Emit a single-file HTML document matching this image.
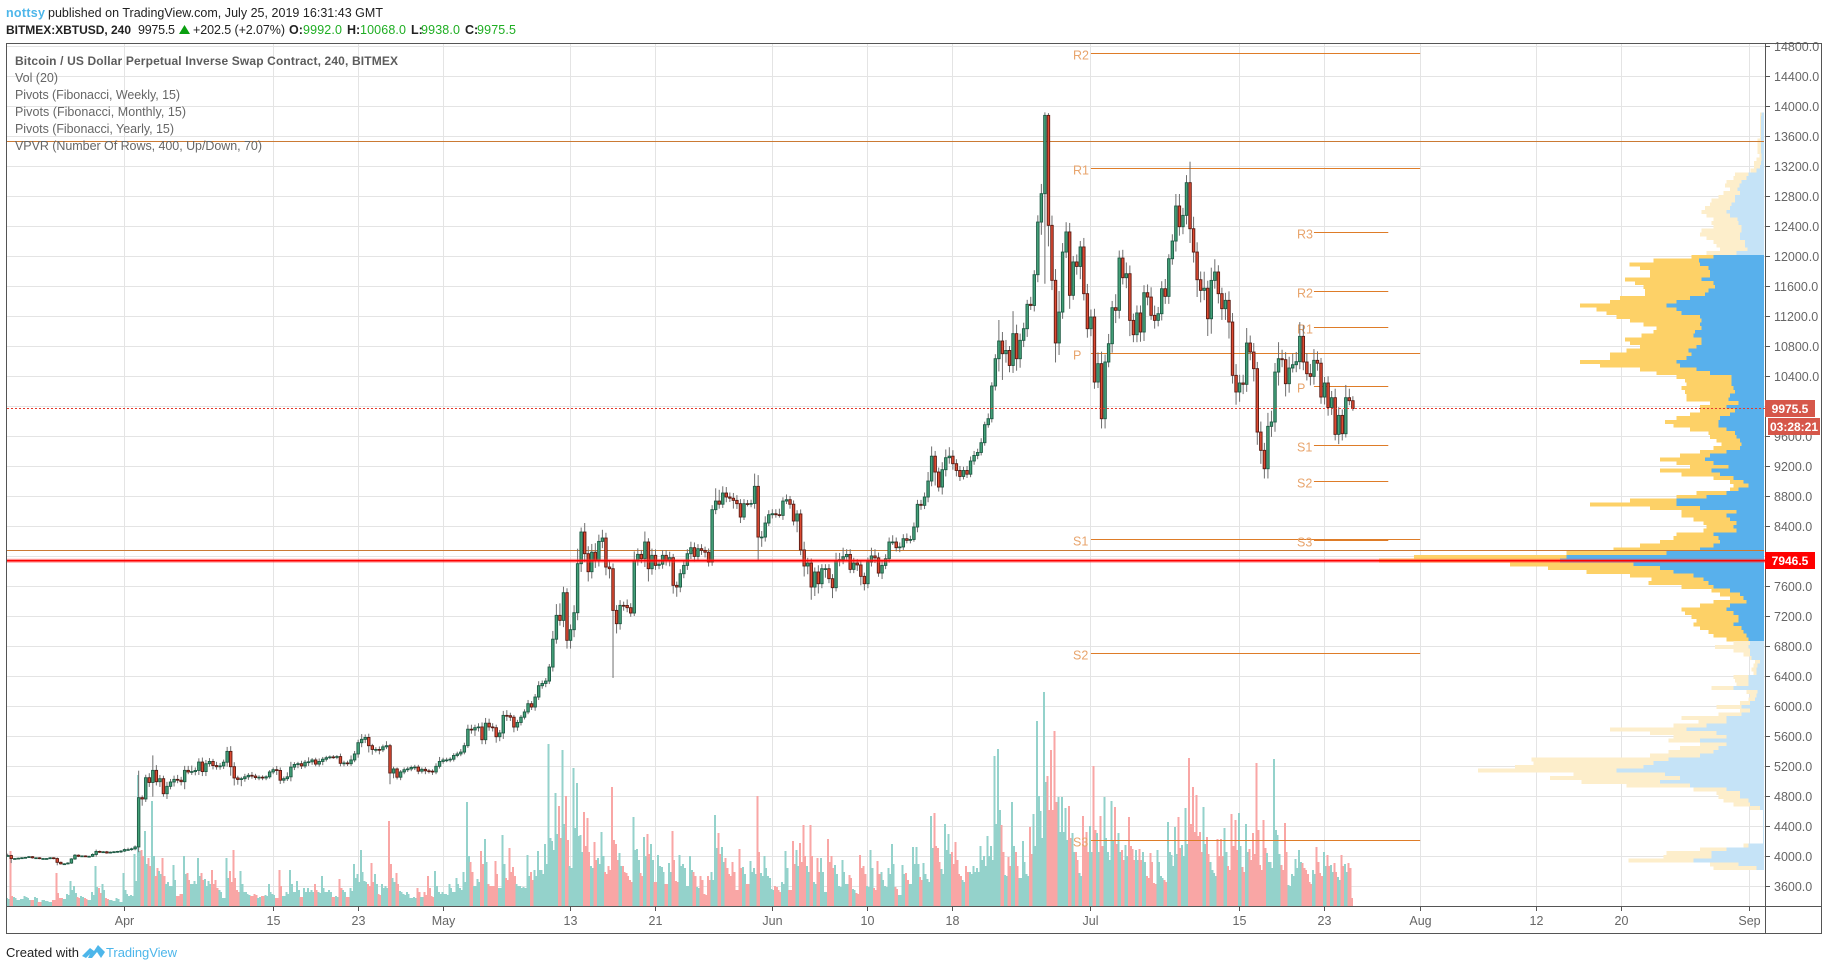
<!DOCTYPE html>
<html lang="en">
<head>
<meta charset="utf-8">
<title>XBTUSD chart</title>
<style>
html,body{margin:0;padding:0;background:#fff;width:1828px;height:970px;overflow:hidden}
svg{display:block}
text{font-family:"Liberation Sans",sans-serif}
</style>
</head>
<body>
<svg id="chart" xmlns="http://www.w3.org/2000/svg" width="1828" height="970" viewBox="0 0 1828 970">
  <g id="grid"></g>
  <g id="volume" shape-rendering="crispEdges"></g>
  <g id="vpvr" shape-rendering="crispEdges"></g>
  <g id="pivots"></g>
  <g id="candles"></g>
  <g id="levels"></g>
  <g id="axes"></g>

  <g font-size="12.5">
    <text x="6" y="17" fill="#4db6ea" font-weight="bold" textLength="39">nottsy</text>
    <text x="48" y="17" fill="#222" textLength="335">published on TradingView.com, July 25, 2019 16:31:43 GMT</text>
  </g>
  <g font-size="12.5">
    <text x="6" y="34" fill="#222" font-weight="bold" font-size="12" textLength="125">BITMEX:XBTUSD, 240</text>
    <text x="138" y="34" fill="#222" textLength="37">9975.5</text>
    <polygon points="179,34 190,34 184.5,25" fill="#0a9f10"></polygon>
    <text x="193" y="34" fill="#222" textLength="92">+202.5 (+2.07%)</text>
    <text x="289" y="34" fill="#222" font-weight="bold">O:</text>
    <text x="303" y="34" fill="#1fae23" textLength="39">9992.0</text>
    <text x="347" y="34" fill="#222" font-weight="bold">H:</text>
    <text x="360" y="34" fill="#1fae23" textLength="46">10068.0</text>
    <text x="411" y="34" fill="#222" font-weight="bold">L:</text>
    <text x="421" y="34" fill="#1fae23" textLength="39">9938.0</text>
    <text x="465" y="34" fill="#222" font-weight="bold">C:</text>
    <text x="477" y="34" fill="#1fae23" textLength="39">9975.5</text>
  </g>

  <g font-size="12.5" fill="#666">
    <text x="15" y="65" font-weight="bold" font-size="12" fill="#5c5c5c" textLength="383">Bitcoin / US Dollar Perpetual Inverse Swap Contract, 240, BITMEX</text>
    <text x="15" y="82" textLength="43">Vol (20)</text>
    <text x="15" y="99" textLength="165">Pivots (Fibonacci, Weekly, 15)</text>
    <text x="15" y="116" textLength="171">Pivots (Fibonacci, Monthly, 15)</text>
    <text x="15" y="133" textLength="159">Pivots (Fibonacci, Yearly, 15)</text>
    <text x="15" y="150" textLength="247">VPVR (Number Of Rows, 400, Up/Down, 70)</text>
  </g>

  <g>
    <rect x="1765" y="400" width="50" height="17" fill="#d6574a"></rect>
    <text x="1790" y="413" text-anchor="middle" fill="#fff" font-size="12" font-weight="bold">9975.5</text>
    <rect x="1768" y="418" width="52" height="17" fill="#d6574a"></rect>
    <text x="1794" y="431" text-anchor="middle" fill="#fff" font-size="12" font-weight="bold">03:28:21</text>
    <rect x="1765" y="552" width="50" height="17" fill="#ff0000"></rect>
    <text x="1790" y="565" text-anchor="middle" fill="#fff" font-size="12" font-weight="bold">7946.5</text>
  </g>

  <g>
    <text x="6" y="957" font-size="13" fill="#222" textLength="73">Created with</text>
    <path d="M82 956 L90 948 L94 951 L98 945 L105 952 L101 958 L97 952 L92 958 L88 958 L90 954 L86 958 Z" fill="#4db6ea"></path>
    <text x="106" y="957" font-size="13" fill="#4db6ea" textLength="71">TradingView</text>
  </g>
</svg>
<script>
// ---- chart data ----
const closes = [
4015,3975,3975,3980,3985,3990,4000,3985,3985,3975,
3975,3975,3985,3975,3925,3905,3905,3915,3970,4020,
4005,4010,4005,4005,4030,4070,4060,4065,4050,4060,
4065,4070,4075,4095,4095,4105,4130,4787,4770,5053,
4990,5151,5000,5040,4840,4938,4996,5031,5020,5000,
5151,5130,5135,5150,5262,5135,5240,5270,5215,5200,
5210,5260,5404,5200,5050,5030,5040,5065,5085,5075,
5055,5060,5050,5065,5130,5160,5150,5020,5040,5065,
5195,5230,5240,5210,5260,5265,5290,5235,5270,5300,
5320,5330,5325,5335,5245,5250,5240,5290,5370,5520,
5565,5590,5480,5430,5430,5425,5465,5480,5116,5170,
5060,5130,5160,5170,5190,5195,5140,5165,5145,5140,
5130,5205,5270,5290,5290,5300,5350,5370,5395,5480,
5700,5690,5720,5730,5560,5780,5730,5720,5600,5650,
5884,5880,5860,5729,5790,5860,5930,6040,5996,6129,
6280,6310,6342,6529,6900,7218,7151,7520,6885,7027,
7253,7907,8329,8040,7800,8060,7950,8204,8249,7862,
7840,7284,7107,7351,7350,7320,7249,7951,8031,7973,
8196,7840,8018,7884,7900,8018,7942,7987,7618,7596,
7773,7884,8040,8120,8004,8107,8084,8060,7929,8627,
8742,8700,8849,8796,8780,8751,8707,8529,8707,8700,
8710,8938,8262,8262,8449,8560,8573,8560,8551,8742,
8760,8700,8476,8570,8090,7876,7916,7596,7796,7640,
7840,7840,7707,7587,7942,7960,8000,8030,7831,7916,
7890,7738,7640,7929,8010,7985,7782,7884,7973,8196,
8196,8120,8130,8240,8218,8230,8396,8698,8685,8796,
9009,9340,9129,8929,9160,9320,9340,9240,9150,9070,
9150,9100,9276,9350,9390,9520,9760,9840,10276,10640,
10876,10707,10750,10550,10974,10640,10885,11040,11365,11350,
11760,12462,12840,13884,12418,11685,10850,11262,12062,12330,
11485,11930,11870,12130,11507,11040,11196,10329,10574,9840,
10596,10840,11320,11285,11982,11720,11773,11151,10960,11250,
10996,11520,11462,11218,11151,11240,11573,11471,11973,12209,
12676,12400,12551,12987,12373,12062,11693,11551,11580,11173,
11684,11796,11507,11307,11418,11129,10418,10196,10316,10298,
10849,10729,10507,9662,9418,9173,9738,9796,10462,10640,
10627,10307,10516,10560,10600,10938,10596,10440,10404,10618,
10580,10129,10316,9990,10120,9631,9884,9640,10120,10080,
9975.5];

const wickUp = [
25,10,8,8,10,8,10,8,6,8,
8,6,10,8,15,10,8,12,10,15,
10,8,8,8,15,25,12,10,12,10,
10,8,12,15,25,15,20,360,30,40,
60,200,70,50,40,60,40,50,60,45,
60,60,80,40,50,60,50,45,35,50,
40,35,60,70,60,30,25,40,30,45,
30,25,25,20,25,30,50,40,30,60,
70,30,25,40,30,60,25,30,40,30,
25,20,25,20,40,30,30,60,40,40,
70,40,50,25,30,40,30,60,25,30,
20,25,30,30,25,30,30,25,30,25,
25,40,60,30,30,25,30,30,40,40,
60,60,40,50,60,70,60,50,40,40,
60,70,40,30,35,30,35,50,35,40,
60,40,40,40,110,150,160,80,60,70,
100,200,60,120,100,110,120,90,110,70,
80,70,70,70,50,80,60,120,80,60,
140,50,90,80,60,70,70,80,50,50,
60,60,60,80,70,60,60,50,50,60,
170,150,90,80,60,70,70,60,60,50,
50,170,150,80,90,60,60,60,80,50,
70,50,50,50,60,110,70,60,60,90,
60,60,60,60,110,90,120,70,70,70,
50,50,50,60,110,90,70,60,60,60,
90,60,60,60,70,50,60,60,60,60,
120,130,70,60,100,110,120,80,60,60,
50,60,60,60,50,60,40,70,50,60,
280,120,140,60,300,120,90,80,60,100,
60,90,130,40,30,130,150,280,120,130,
120,80,100,80,120,130,100,110,150,160,
100,130,90,180,100,110,150,110,90,100,
100,100,110,130,130,90,100,130,60,90,
160,160,100,100,280,160,130,110,220,100,
170,170,90,80,100,120,120,150,110,110,
200,100,120,90,140,100,180,150,120,220,
120,100,150,150,130,190,150,120,130,150,
120,70,80,90,90,120,110,80,170,120,
60];

const wickDown = [
10,60,8,8,8,8,6,10,8,8,
8,10,8,10,40,10,10,8,10,12,
10,8,8,6,10,30,10,8,10,8,
8,12,20,10,10,15,20,70,90,40,
60,190,50,70,40,70,40,60,40,50,
100,30,40,50,60,60,60,40,50,40,
40,40,60,120,100,70,90,40,40,35,
30,35,30,30,25,30,60,50,40,30,
60,40,50,40,30,50,40,30,35,50,
30,20,20,25,40,40,30,30,30,50,
60,50,90,70,40,60,30,30,150,70,
30,40,30,30,30,35,40,30,45,30,
40,30,30,30,30,30,30,25,30,30,
30,50,80,50,60,60,50,50,80,60,
80,70,50,70,50,40,30,30,40,50,
40,40,50,40,60,60,70,90,110,110,
100,100,110,110,130,90,100,80,90,110,
130,900,130,80,70,60,50,40,70,60,
110,170,80,60,50,60,60,70,110,130,
70,60,60,70,70,60,60,70,60,50,
60,60,50,70,50,110,70,80,40,30,
40,70,310,130,60,40,50,40,30,60,
40,60,60,150,70,140,110,170,120,130,
60,120,60,140,50,70,60,60,50,50,
80,120,90,60,60,70,50,80,50,50,
40,50,60,40,40,40,30,70,60,50,
70,70,180,60,100,90,80,80,80,60,
40,50,40,50,50,40,40,40,50,60,
170,350,120,90,100,160,120,90,110,60,
80,100,170,1200,280,130,260,160,90,80,
180,60,110,170,90,120,100,90,80,130,
130,70,120,170,110,90,140,210,100,100,
130,120,110,60,110,80,90,100,100,80,
140,120,100,120,190,140,230,160,130,230,
200,110,130,150,150,220,110,170,130,130,
100,110,170,170,180,130,130,140,130,180,
100,170,120,60,100,100,110,90,120,110,
100,90,100,110,100,80,130,90,50,60,
30];

// Two 4-hour volume readings for each candle slot
const volumes = [
8,55,9,6,7,10,8,6,9,4,
6,5,4,6,33,8,7,12,25,20,
9,10,8,6,14,40,18,22,8,6,
5,8,4,33,12,11,52,131,56,75,
48,105,30,35,48,22,20,41,10,12,
50,33,22,25,48,33,27,25,36,26,
16,8,48,35,56,16,35,14,12,10,
12,8,10,11,22,12,8,36,10,14,
36,14,25,9,18,18,16,22,14,30,
14,16,9,10,27,16,9,18,42,32,
56,25,22,43,32,12,22,20,85,28,
33,15,12,14,8,9,18,9,14,30,
10,35,14,14,12,22,14,28,18,34,
104,44,20,27,55,67,22,20,45,18,
71,28,58,39,22,20,19,51,34,36,
55,36,62,162,65,113,100,156,110,40,
138,123,71,94,88,40,64,48,74,34,
40,119,62,53,40,33,26,89,57,33,
69,72,62,24,51,39,22,43,75,25,
51,42,20,50,34,19,30,12,30,34,
91,73,59,48,32,44,16,57,39,22,
45,38,110,33,50,30,17,20,16,24,
55,16,65,56,63,81,40,81,24,48,
48,14,67,50,41,20,46,22,31,17,
13,51,40,20,56,18,45,34,20,38,
62,19,11,41,33,22,59,59,29,43,
27,90,93,58,37,82,72,54,64,32,
26,40,34,40,38,60,50,70,60,150,
157,81,31,49,104,54,28,65,32,79,
92,185,95,214,130,156,175,109,109,98,
100,73,54,33,90,74,80,140,73,90,
109,54,105,99,73,56,61,89,57,56,
57,54,30,53,23,56,30,26,84,51,
79,89,61,98,148,119,111,74,99,69,
44,33,67,67,78,40,92,86,93,39,
82,57,73,143,41,86,53,44,147,71,
41,83,21,32,47,56,43,36,24,36,
59,33,54,51,41,43,29,51,42,43,
8];
const volumesSecond = [
7,10,8,6,7,9,6,6,8,4,
6,5,4,6,13,8,7,11,16,13,
8,9,7,6,11,19,13,16,7,6,
5,7,4,16,10,10,25,55,50,42,
40,50,38,32,30,24,20,26,10,12,
32,26,22,22,30,26,20,22,22,18,
14,8,28,24,28,14,22,14,11,10,
11,9,10,10,14,11,8,20,10,12,
22,14,16,9,14,14,14,16,13,18,
14,14,9,9,18,14,9,15,28,24,
34,24,20,24,22,11,18,18,42,24,
22,14,11,12,8,8,14,9,11,18,
9,20,12,12,11,18,14,22,16,24,
50,34,20,24,42,44,20,20,32,18,
42,26,34,30,20,18,18,30,26,30,
36,32,42,68,56,72,68,82,66,38,
78,70,54,60,54,38,46,42,50,32,
36,66,46,40,34,30,24,56,46,30,
50,52,46,24,40,34,22,34,46,24,
40,38,20,36,30,18,26,11,26,26,
58,52,44,38,30,34,16,38,32,22,
34,32,54,30,38,28,16,19,14,22,
38,16,42,40,44,50,34,50,22,34,
34,14,44,38,32,19,34,22,28,16,
12,38,32,19,38,16,32,26,19,32,
42,17,11,32,26,22,42,42,26,32,
24,58,60,44,32,56,52,42,46,30,
24,34,32,34,34,46,40,50,46,82,
96,54,30,40,60,40,28,44,30,52,
60,110,68,124,96,96,104,74,74,66,
68,54,46,30,60,54,54,76,54,60,
68,46,66,62,54,46,50,60,46,46,
46,44,28,44,22,44,28,24,54,40,
52,58,50,62,82,74,70,54,62,52,
36,30,50,50,54,36,60,56,60,34,
54,46,52,76,36,58,44,38,76,52,
36,54,20,30,38,44,38,32,22,32,
44,30,40,40,34,34,26,40,34,38,
0];

// Volume-profile rows, highest price first, one row per vpRowSize USD
const vpTopPrice = 13900;
const vpRowSize = 50;
const vpTotal = [
12,12,12,12,12,12,12,20,20,20,20,14,22,30,30,40,87,92,112,117,102,122,137,157,162,177,187,172,152,157,152,187,192,172,152,142,132,172,
217,332,404,372,342,342,417,387,362,357,357,432,462,552,502,472,442,402,362,322,332,367,417,402,372,412,462,462,552,492,372,322,
262,237,232,247,237,232,232,162,192,192,222,262,297,272,222,167,162,142,127,152,192,252,312,262,222,312,247,152,102,92,102,202,262,402,522,342,
247,247,212,182,172,182,262,272,312,372,452,592,1050,1155,762,648,532,402,337,347,247,157,132,102,152,192,247,237,217,202,212,192,167,152,112,
92,147,92,62,42,27,32,37,32,92,87,82,157,52,42,47,72,142,72,137,247,197,272,462,342,272,287,192,252,287,342,697,692,747,858,572,642,547,412,212,142,137,122,92,42,
3,3,3,3,3,3,3,3,3,62,192,292,302,407,162,152];
const vpUp = [
7,9,9,9,9,9,9,9,9,9,9,7,7,9,12,22,47,52,67,74,80,72,87,87,97,102,112,102,80,77,67,67,72,72,57,57,50,82,
152,195,192,167,162,162,187,152,147,167,177,222,262,292,262,247,192,187,192,187,207,212,187,187,202,227,217,232,262,252,202,162,
97,97,97,92,87,102,107,77,112,87,102,132,137,137,112,87,82,72,67,72,112,162,177,152,107,157,132,92,62,47,77,112,172,262,262,192,
82,112,102,82,92,82,152,137,132,152,192,292,592,612,392,312,272,212,182,167,152,102,72,62,52,102,112,92,77,77,92,67,62,52,47,
42,47,42,42,37,12,20,22,22,47,47,47,92,20,22,27,42,67,42,67,112,112,172,232,142,112,192,112,137,152,192,287,332,362,442,297,252,312,222,112,72,72,47,42,12,
3,3,3,3,3,3,3,3,3,47,112,157,157,212,77,22];
const vpValueAreaHigh = 12010;
const vpValueAreaLow = 6875;

const priceTicks = [14800,14400,14000,13600,13200,12800,12400,12000,11600,11200,10800,10400,10000,9600,9200,8800,8400,8000,7600,7200,6800,6400,6000,5600,5200,4800,4400,4000,3600];
const hiddenPriceTickLabels = [10000,8000];
const dateTickLabels = ["Apr","15","23","May","13","21","Jun","10","18","Jul","15","23","Aug","12","20","Sep"];
const dateTickDays = [0,14,22,30,42,50,61,70,78,91,105,113,122,133,141,153];

const monthlyPivotLabels = ["R2","R1","P","S1","S2","S3"];
const monthlyPivotPrices = [14708,13179,10712,8232,6703,4219];
const monthlyPivotRange = [91,122];
const weeklyPivotLabels = ["R3","R2","R1","P","S1","S2","S3"];
const weeklyPivotPrices = [12325,11537,11059,10272,9485,9005,8222];
const weeklyPivotRange = [112,119];
const yearlyPivotPrices = [13538,8085];
const horizontalLinePrice = 7946.5;
const lastPrice = 9975.5;

// ---- axis functions ----
const NS = "http://www.w3.org/2000/svg";
const plotLeft = 7, plotRight = 1765, plotTop = 44, plotBottom = 906;
function priceY(p){ return 46.7 + (14800 - p) * 0.075; }
function dayX(d){ return 124.5 + d * 10.62; }
function barX(i){ return dayX(-11 + i / 3); }
function volY(v){ return plotBottom - v; }
function vpWidth(v){ return v / 3; }
function crisp(v){ return Math.floor(v) + 0.5; }
function mk(parent, tag, attrs, txt){
  const el = document.createElementNS(NS, tag);
  for (const k in attrs) el.setAttribute(k, attrs[k]);
  if (txt !== undefined) el.textContent = txt;
  parent.appendChild(el);
  return el;
}
const gGrid = document.getElementById("grid");
const gVol = document.getElementById("volume");
const gVp = document.getElementById("vpvr");
const gPiv = document.getElementById("pivots");
const gCan = document.getElementById("candles");
const gLev = document.getElementById("levels");
const gAx = document.getElementById("axes");

// grid and tick marks
priceTicks.forEach(function(p){
  const y = crisp(priceY(p));
  const g = mk(gGrid, "line", {x1:plotLeft, x2:plotRight, y1:y, y2:y, stroke:"#e4e4e4", "stroke-width":1});
  
  
  const t = mk(gAx, "line", {x1:1765.5, x2:1770, y1:y, y2:y, stroke:"#555", "stroke-width":1});
  
  
  if (hiddenPriceTickLabels.indexOf(p) < 0) {
    const l = mk(gAx, "text", {x:1774, y:y+4.5, fill:"#666", "font-size":12.5}, p.toFixed(1));
    
    
  }
});
dateTickDays.forEach(function(d, k){
  const x = crisp(dayX(d));
  const g = mk(gGrid, "line", {x1:x, x2:x, y1:plotTop, y2:plotBottom, stroke:"#e4e4e4", "stroke-width":1});
  
  
  const t = mk(gAx, "line", {x1:x, x2:x, y1:906.5, y2:911, stroke:"#555", "stroke-width":1});
  
  
  const l = mk(gAx, "text", {x:x, y:925, fill:"#666", "font-size":12.5, "text-anchor":"middle"}, dateTickLabels[k]);
  
  
});

// volume bars
closes.forEach(function(c, i){
  const up = c >= (i ? closes[i-1] : c);
  const fill = up ? "#94d2cb" : "#f9a6a5";
  const v1 = volumes[i], v2 = volumesSecond[i];
  const a = mk(gVol, "rect", {x:barX(i)-1.8, y:volY(v1), width:2, height:v1, fill:fill});
  
  
  const b = mk(gVol, "rect", {x:barX(i)-0.03, y:volY(v2), width:2, height:v2, fill:fill});
  
  
});

// volume profile
vpTotal.forEach(function(total, k){
  const price = vpTopPrice - k * vpRowSize;
  const up = vpUp[k];
  const inVA = price <= vpValueAreaHigh && price >= vpValueAreaLow;
  const y = priceY(price + vpRowSize / 2);
  const h = vpRowSize * 0.075 + 0.3;
  const right = 1764;
  const b = mk(gVp, "rect", {x:right - vpWidth(up), y:y, width:vpWidth(up), height:h, fill: inVA ? "#58b0ec" : "#c5e3f7"});
  
  
  const a = mk(gVp, "rect", {x:right - vpWidth(total), y:y, width:vpWidth(total - up), height:h, fill: inVA ? "#fdd167" : "#fdeecb"});
  
  
});

// pivots
function drawPivots(labels, prices, range, labelX, tag){
  prices.forEach(function(p, k){
    const y = crisp(priceY(p));
    const ln = mk(gPiv, "line", {x1:dayX(range[0]), x2:dayX(range[1]), y1:y, y2:y, stroke:"#de7c28", "stroke-width":1});
    
    
    const t = mk(gPiv, "text", {x:labelX, y:y+6, fill:"#e8a46c", "font-size":12.5}, labels[k]);
    
    
  });
}
drawPivots(monthlyPivotLabels, monthlyPivotPrices, monthlyPivotRange, 1073, "monthly");
drawPivots(weeklyPivotLabels, weeklyPivotPrices, weeklyPivotRange, 1297, "weekly");
yearlyPivotPrices.forEach(function(p){
  const y = crisp(priceY(p));
  const ln = mk(gPiv, "line", {x1:plotLeft, x2:1764, y1:y, y2:y, stroke:"#cb7a34", "stroke-width":1});
  
  
});

// candles
closes.forEach(function(c, i){
  const o = i ? closes[i-1] : c;
  const hi = Math.max(o, c) + (wickUp[i] || 0);
  const lo = Math.min(o, c) - (wickDown[i] || 0);
  const x = barX(i);
  const w = mk(gCan, "line", {x1:x, x2:x, y1:priceY(hi), y2:priceY(lo), stroke:"#6e6e6e", "stroke-width":1});
  
  
});
closes.forEach(function(c, i){
  const o = i ? closes[i-1] : c;
  const up = c >= o;
  const yTop = priceY(Math.max(o, c));
  const yBot = priceY(Math.min(o, c));
  const b = mk(gCan, "rect", {x:barX(i)-1.25, y:yTop, width:2.5, height:Math.max(yBot - yTop, 0.8),
    fill: up ? "#43a078" : "#dd4a32", stroke: up ? "#1d5a44" : "#5a1a12", "stroke-width":0.9});
  
  
});

// price lines
const halo = mk(gLev, "line", {x1:plotLeft, x2:1765, y1:priceY(horizontalLinePrice), y2:priceY(horizontalLinePrice), stroke:"rgba(255,60,60,.45)", "stroke-width":4});


const redLine = mk(gLev, "line", {x1:plotLeft, x2:1765, y1:priceY(horizontalLinePrice), y2:priceY(horizontalLinePrice), stroke:"#ff0000", "stroke-width":1.6});


const lastLine = mk(gLev, "line", {x1:plotLeft, x2:1765, y1:crisp(priceY(lastPrice)), y2:crisp(priceY(lastPrice)), stroke:"#e5392b", "stroke-width":1, "stroke-dasharray":"2 2"});



// frame
const frame = mk(gAx, "rect", {x:6.5, y:43.5, width:1815, height:890, fill:"none", stroke:"#555", "stroke-width":1});


const vAxis = mk(gAx, "line", {x1:1765.5, x2:1765.5, y1:43.5, y2:933.5, stroke:"#555", "stroke-width":1});


const hAxis = mk(gAx, "line", {x1:6.5, x2:1821.5, y1:906.5, y2:906.5, stroke:"#555", "stroke-width":1});


</script>
</body>
</html>
